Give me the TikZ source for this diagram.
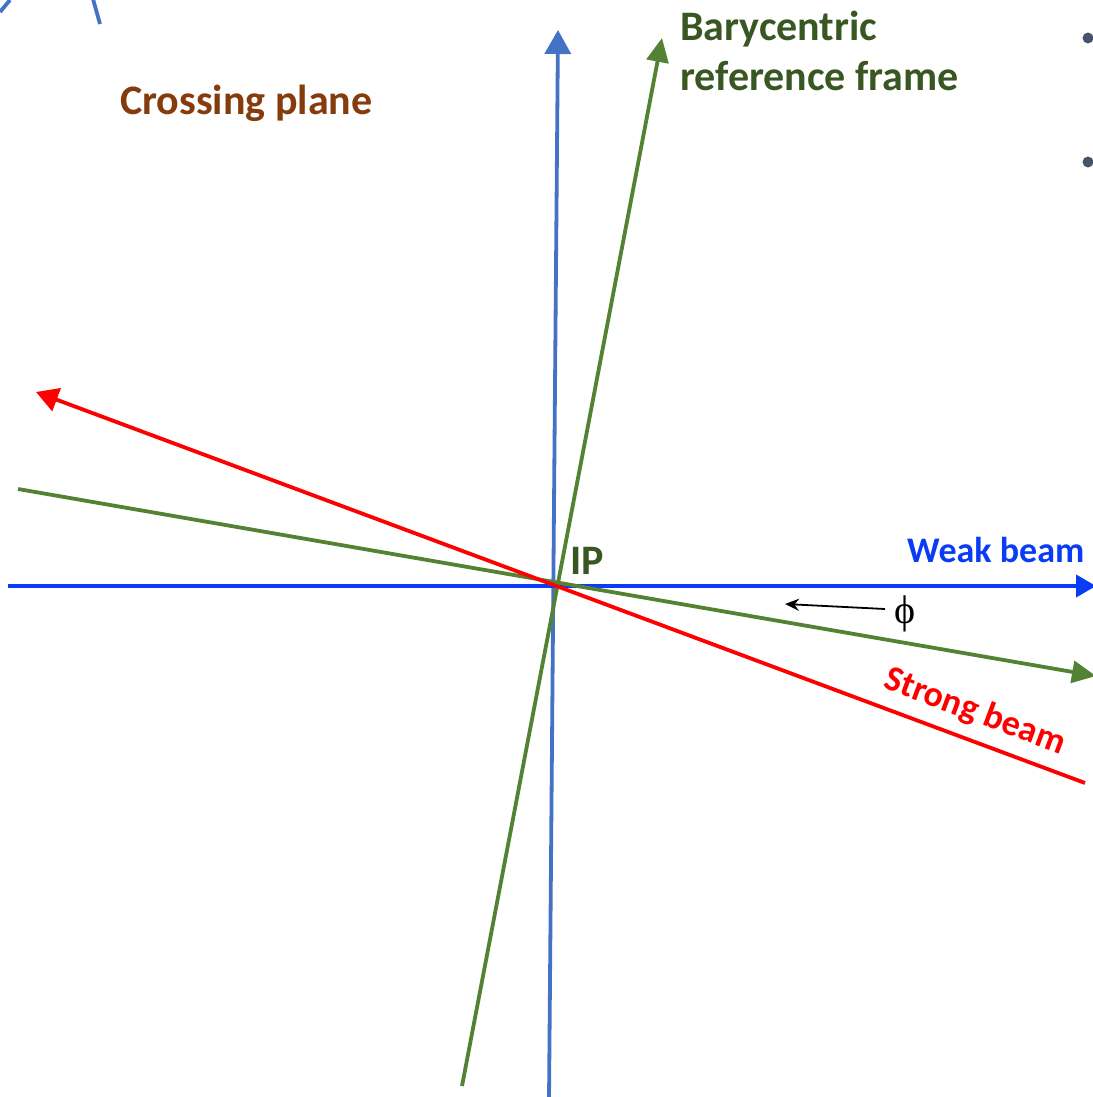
\documentclass[tikz,border=0pt]{standalone}
\usepackage{fontspec}
\setmainfont{Carlito}
\newfontfamily\phifont{Liberation Serif}
\usetikzlibrary{arrows.meta}
\definecolor{axisblue}{HTML}{4472C4}
\definecolor{weakblue}{HTML}{0A3CF5}
\definecolor{framegreen}{HTML}{548235}
\definecolor{textgreen}{HTML}{385723}
\definecolor{planebrown}{HTML}{843C0C}
\definecolor{bulletgray}{HTML}{44546A}
\tikzset{
  lbl/.style={inner sep=0pt, font=\bfseries\fontsize{42}{50}\selectfont},
  lblsmall/.style={inner sep=0pt, font=\bfseries\fontsize{36}{43}\selectfont},
}
\begin{document}
\begin{tikzpicture}[x=1pt,y=-1pt]
\useasboundingbox (0,0) rectangle (1092,1097);
% coordinates
\coordinate (IP) at (553,585);
\coordinate (vb) at (549,1100);
\coordinate (vt) at (558,30);
\coordinate (wl) at (8,586);
\coordinate (wr) at (1096,586);
\coordinate (gb) at (462,1086);
\coordinate (gt) at (662,38);
\coordinate (gl) at (18,489);
\coordinate (gr) at (1096,676);
\coordinate (rl) at (36,392);
\coordinate (rr) at (1085,783);
% top-left curve fragments
\draw[axisblue, line width=3.8pt] (0,12) -- (10,0);
\draw[axisblue, line width=3.8pt] (93,-1) -- (100,24);
% bullets
\fill[bulletgray] (1088,38) circle (5.5);
\fill[bulletgray] (1088,162) circle (5.5);
% axes
\draw[axisblue, line width=3.8pt, -{Triangle[length=24pt,width=26pt]}] (vb) -- (vt);
\draw[weakblue, line width=4.2pt, -{Triangle[length=20pt,width=22pt]}] (wl) -- (wr);
\draw[framegreen, line width=3.8pt, -{Triangle[length=24pt,width=22pt]}] (gb) -- (gt);
\draw[framegreen, line width=3.8pt, -{Triangle[length=24pt,width=22pt]}] (gl) -- (gr);
\draw[red, line width=3.8pt, -{Triangle[length=22pt,width=24pt]}] (rr) -- (rl);
% labels
\node[lbl, text=planebrown, anchor=base west] (cp) at (120,115) {Crossing plane};
\node[lbl, text=textgreen, anchor=base west] (bar1) at (680,41) {Barycentric};
\node[lbl, text=textgreen, anchor=base west] (bar2) at (680,91) {reference frame};
\node[lbl, text=textgreen, anchor=base west] (ipl) at (570,574) {IP};
\node[lblsmall, text=weakblue, anchor=base west] (wk) at (907,562) {Weak beam};
\node[lblsmall, text=red, rotate=-20.5] (st) at (975,712) {Strong beam};
\node[inner sep=0pt, font=\phifont\fontsize{40}{46}\selectfont] (phi) at (905,614) {ϕ};
\coordinate (pa) at (885,609);
\coordinate (pb) at (785,604);
\draw[black, line width=1.8pt, -{Stealth[length=14pt,width=12pt]}] (pa) -- (pb);
\end{tikzpicture}
\end{document}
